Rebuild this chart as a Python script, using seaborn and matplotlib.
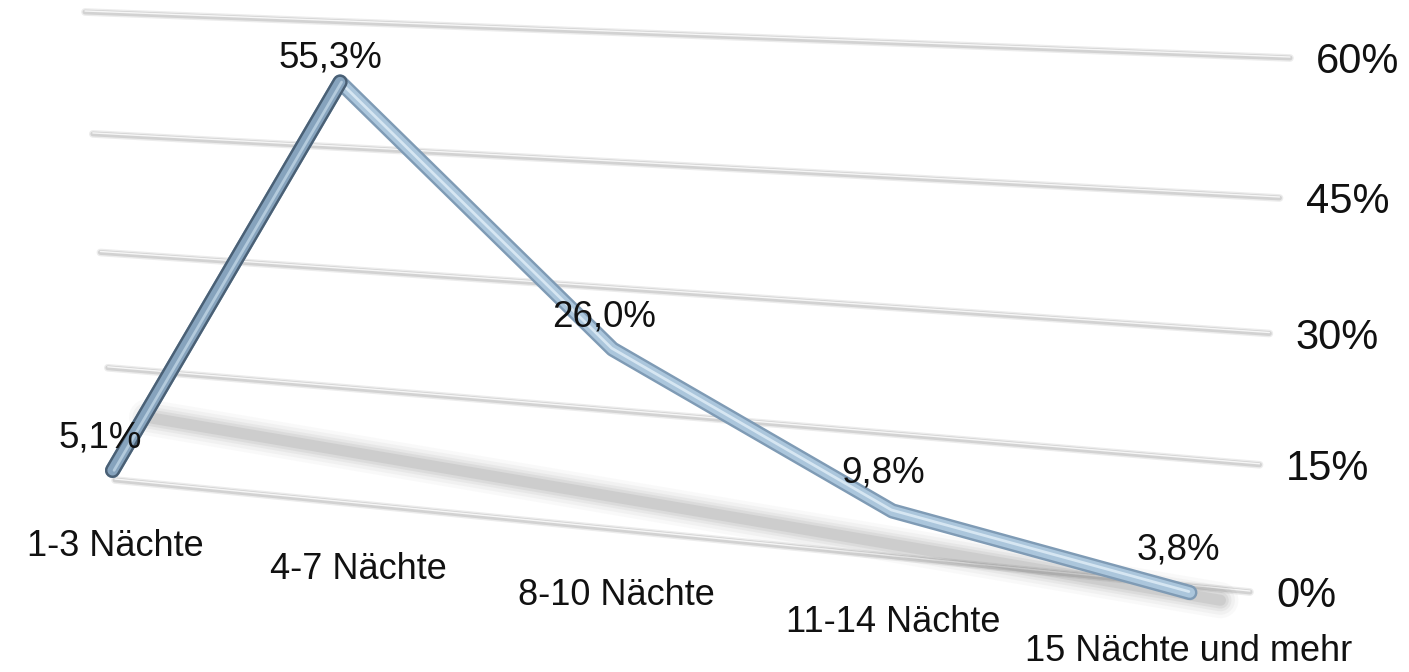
import numpy as np
import matplotlib
matplotlib.use("Agg")
import matplotlib.pyplot as plt
import matplotlib.patheffects as pe
from matplotlib.transforms import Transform, Affine2D
import seaborn as sns

# data
categories = ["1-3 Nächte", "4-7 Nächte", "8-10 Nächte", "11-14 Nächte", "15 Nächte und mehr"]
values = [5.1, 55.3, 26.0, 9.8, 3.8]
value_labels = ["5,1%", "55,3%", "26,0%", "9,8%", "3,8%"]
y_ticks = [0, 15, 30, 45, 60]
y_tick_labels = ["0%", "15%", "30%", "45%", "60%"]

W, H = 1409, 672
X_END = 4.2  # how far the grid plane reaches past the last category


def fit_homography(src, dst):
    """Solve the 3x3 projective matrix that maps 4 src points onto 4 dst points."""
    rows = []
    for (x, y), (u, v) in zip(src, dst):
        rows.append([x, y, 1, 0, 0, 0, -u * x, -u * y])
        rows.append([0, 0, 0, x, y, 1, -v * x, -v * y])
    h = np.linalg.solve(np.array(rows, float), np.array(dst, float).ravel())
    return np.append(h, 1.0).reshape(3, 3)


class Perspective(Transform):
    """(category index, percent) -> image pixels, with a fake 3D tilt."""
    input_dims = output_dims = 2
    is_separable = False
    has_inverse = False

    def __init__(self, mat):
        super().__init__()
        self.mat = mat

    def transform_non_affine(self, values):
        v = np.asarray(values, float)
        p = np.column_stack([v, np.ones(len(v))]) @ self.mat.T
        return p[:, :2] / p[:, 2:3]


corners = [(0, 60), (X_END, 60), (0, 0), (X_END, 0)]
# back wall with the gridlines, pixel positions (y pointing down)
persp = Perspective(fit_homography(corners, [(85, 12), (1290, 58), (115, 480), (1250, 592)]))
# the line ribbon sits a little in front of that wall
persp_line = Perspective(fit_homography(corners, [(85, 31), (1290, 80), (115, 509), (1250, 632)]))
to_display = Affine2D().scale(1, -1).translate(0, H)


def trans(dx=0.0, dy=0.0, base=persp):
    return base + Affine2D().translate(dx, dy) + to_display


sns.set_theme(style="white")
plt.rcParams["font.family"] = ["Liberation Sans", "DejaVu Sans"]

fig = plt.figure(figsize=(W / 100, H / 100), dpi=100)
ax = fig.add_axes([0, 0, 1, 1])
ax.set_axis_off()

x_idx = np.arange(len(categories))

# gridlines
for v in y_ticks:
    ax.plot([0, X_END], [v, v], transform=trans(), color="#d2d2d2", lw=3.5,
            solid_capstyle="round", zorder=1, clip_on=False,
            path_effects=[pe.Stroke(linewidth=5.5, foreground="#ececec"), pe.Normal()])
    ax.plot([0, X_END], [v, v], transform=trans(0, -1), color="#f6f6f6", lw=1,
            zorder=1, clip_on=False)

# soft shadow on the floor: the zero line, sheared down into the floor
shear = Affine2D(np.array([[1, 0, 32], [0.0718, 1, -71], [0, 0, 1]]))
shadow_t = persp + shear + to_display
for lw, a in [(26, 0.03), (21, 0.045), (16, 0.06), (12, 0.08), (8, 0.1)]:
    ax.plot(x_idx, np.zeros(len(x_idx)), transform=shadow_t, color="#555555",
            lw=lw, alpha=a, solid_capstyle="round", solid_joinstyle="round",
            zorder=2, clip_on=False)

# the line itself
line_t = trans(base=persp_line)
sns.lineplot(x=x_idx, y=values, ax=ax, transform=line_t, color="#abc6dc", lw=7.5,
             solid_capstyle="round", solid_joinstyle="round", zorder=4, clip_on=False,
             path_effects=[pe.Stroke(linewidth=11, foreground="#7f9bb5"), pe.Normal()])
sns.lineplot(x=x_idx, y=values, ax=ax, transform=trans(-1, -1, persp_line), color="#d6e6f2",
             lw=2, solid_capstyle="round", solid_joinstyle="round", zorder=5, clip_on=False)
# first segment faces away from the light, so it is darker
sns.lineplot(x=x_idx[:2], y=values[:2], ax=ax, transform=line_t, color="#86a3bd", lw=7.5,
             solid_capstyle="round", zorder=6, clip_on=False,
             path_effects=[pe.Stroke(linewidth=11, foreground="#4a6075"), pe.Normal()])
sns.lineplot(x=x_idx[:2], y=values[:2], ax=ax, transform=trans(1.5, 0, persp_line),
             color="#b3cadc", lw=2, solid_capstyle="round", zorder=7, clip_on=False)

# value labels
for i, (v, s) in enumerate(zip(values, value_labels)):
    ax.text(i, v, s, transform=trans(-12, -4), ha="center", va="center",
            fontsize=26.5, color="#111111", zorder=8)

# category labels under the floor
for i, c in enumerate(categories):
    ax.text(i, 0, c, transform=trans(0, 66), ha="center", va="center",
            fontsize=26, color="#111111")

# percent axis on the right
for v, s in zip(y_ticks, y_tick_labels):
    ax.text(X_END, v, s, transform=trans(26, 4), ha="left", va="center",
            fontsize=30, color="#111111")

fig.savefig("out.png", dpi=100)
